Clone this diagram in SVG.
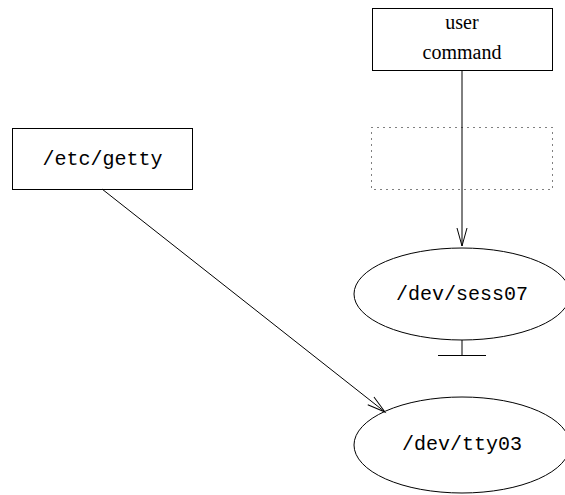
<svg xmlns="http://www.w3.org/2000/svg" width="565" height="495" viewBox="0 0 565 495">
<style>
.box{fill:none;stroke:#000;stroke-width:1}
.mono{font-family:"Liberation Mono",monospace;font-size:20px;fill:#000;text-anchor:middle}
.serif{font-family:"Liberation Serif",serif;font-size:20px;fill:#000;text-anchor:middle}
.edge{fill:none;stroke:#000;stroke-width:1}
</style>
<defs>
<marker id="arrow" markerUnits="userSpaceOnUse" markerWidth="20" markerHeight="12" refX="0" refY="0" orient="auto" viewBox="-20 -6 20 12" overflow="visible">
<path d="M-18,-5 L0,0 L-18,5" fill="none" stroke="#000" stroke-width="1"/>
</marker>
</defs>
<rect width="565" height="495" fill="#fff"/>
<g id="user-command">
<rect class="box" x="372.5" y="8.5" width="180" height="62"/>
<text class="serif" x="462" y="29">user</text>
<text class="serif" x="462" y="59">command</text>
</g>
<g id="dotted-box">
<rect x="371.5" y="127.5" width="181" height="62" fill="none" stroke="#000" stroke-width="1" stroke-dasharray="1 5"/>
</g>
<g id="etc-getty">
<rect class="box" x="12.5" y="128.5" width="180" height="61"/>
<text class="mono" x="102.5" y="165">/etc/getty</text>
</g>
<g id="dev-sess07">
<ellipse class="box" cx="462" cy="294" rx="108" ry="46"/>
<text class="mono" x="462" y="300">/dev/sess07</text>
</g>
<g id="dev-tty03">
<ellipse class="box" cx="462" cy="445" rx="108" ry="48"/>
<text class="mono" x="462" y="450">/dev/tty03</text>
</g>
<g id="connectors">
<line class="edge" x1="462" y1="71" x2="462" y2="246" marker-end="url(#arrow)"/>
<line class="edge" x1="102" y1="189" x2="385" y2="412" marker-end="url(#arrow)"/>
<line class="edge" x1="462" y1="340" x2="462" y2="355"/>
<line class="edge" x1="438" y1="355.5" x2="486" y2="355.5"/>
</g>
</svg>
